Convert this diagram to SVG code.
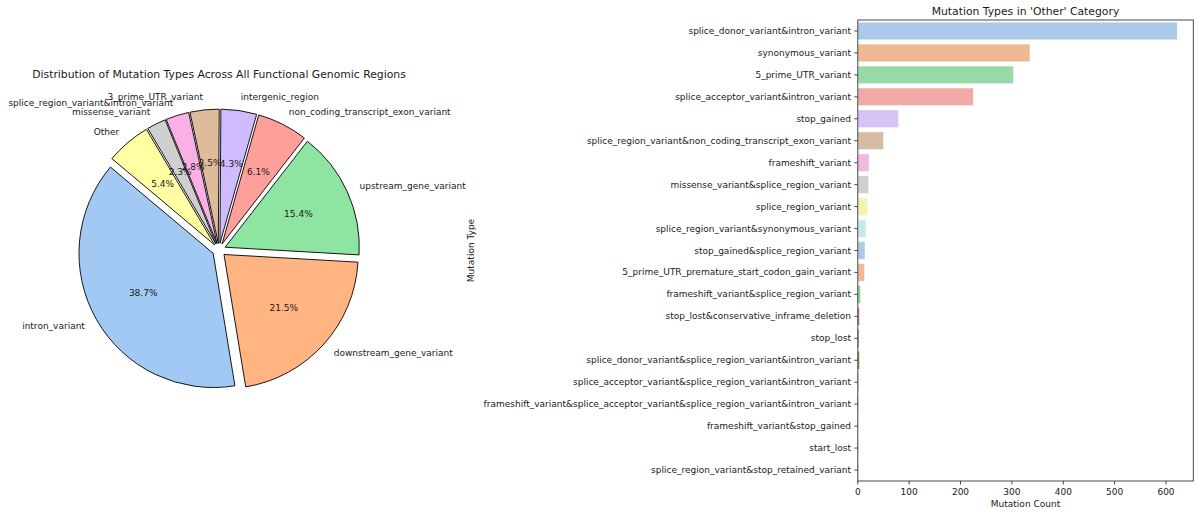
<svg xmlns="http://www.w3.org/2000/svg" width="1200" height="516" viewBox="0 0 1200 516">
<style>
text{font-family:"DejaVu Sans","Liberation Sans",sans-serif;fill:#1a1a1a;font-size:9px;dominant-baseline:central}
.title{font-size:10.8px}
.st{text-anchor:start}
.en{text-anchor:end}
.mid{text-anchor:middle}
.w{stroke:#000;stroke-width:0.9;stroke-linejoin:round}
.bar{stroke:#ffffff;stroke-opacity:0.45;stroke-width:1}
.tick{stroke:#333;stroke-width:0.9}
.spine{fill:none;stroke:#333;stroke-width:0.9}
</style>
<rect width="1200" height="516" fill="#ffffff"/>

<!-- Pie chart -->
<text class="title mid" x="219" y="74">Distribution of Mutation Types Across All Functional Genomic Regions</text>
<g id="pie">
<g id="w-intron"><path class="w" fill="#a1c9f4" d="M213.18,253.32 L110.38,167.06 A134.2,134.2 0 0 0 234.92,385.75 Z"/></g>
<g id="w-downstream"><path class="w" fill="#ffb482" d="M223.98,254.48 L245.72,386.91 A134.2,134.2 0 0 0 357.96,262.16 Z"/></g>
<g id="w-upstream"><path class="w" fill="#8de5a1" d="M225.10,247.23 L359.08,254.91 A134.2,134.2 0 0 0 307.42,141.24 Z"/></g>
<g id="w-noncoding"><path class="w" fill="#ff9f9b" d="M222.03,244.02 L304.35,138.03 A134.2,134.2 0 0 0 258.75,114.95 Z"/></g>
<g id="w-intergenic"><path class="w" fill="#d0bbff" d="M219.95,243.37 L256.67,114.30 A134.2,134.2 0 0 0 220.89,109.17 Z"/></g>
<g id="w-3prime"><path class="w" fill="#debb9b" d="M218.31,243.34 L219.25,109.14 A134.2,134.2 0 0 0 189.95,112.17 Z"/></g>
<g id="w-spliceintron"><path class="w" fill="#fab0e4" d="M217.01,243.60 L188.65,112.43 A134.2,134.2 0 0 0 166.13,119.42 Z"/></g>
<g id="w-missense"><path class="w" fill="#cfcfcf" d="M216.02,244.00 L165.14,119.82 A134.2,134.2 0 0 0 147.78,128.44 Z"/></g>
<g id="w-other"><path class="w" fill="#fffea3" d="M214.67,244.89 L146.43,129.33 A134.2,134.2 0 0 0 111.87,158.63 Z"/></g>
</g>
<g id="pie-labels">
<text class="en" x="84.9" y="326.4">intron_variant</text>
<text class="st" x="333.7" y="353.2">downstream_gene_variant</text>
<text class="st" x="359.5" y="186.2">upstream_gene_variant</text>
<text class="st" x="288.7" y="112.4">non_coding_transcript_exon_variant</text>
<text class="st" x="240.8" y="97.3">intergenic_region</text>
<text class="en" x="203.1" y="96.5">3_prime_UTR_variant</text>
<text class="en" x="173.3" y="102.6">splice_region_variant&amp;intron_variant</text>
<text class="en" x="150.3" y="111.8">missense_variant</text>
<text class="en" x="119.3" y="132.3">Other</text>
</g>
<g id="pie-pct">
<text class="mid" x="143.2" y="293.2">38.7%</text>
<text class="mid" x="283.8" y="308.3">21.5%</text>
<text class="mid" x="298.4" y="213.9">15.4%</text>
<text class="mid" x="258.4" y="172.2">6.1%</text>
<text class="mid" x="231.3" y="163.7">4.3%</text>
<text class="mid" x="210.0" y="163.3">3.5%</text>
<text class="mid" x="193.2" y="166.7">2.8%</text>
<text class="mid" x="180.2" y="171.9">2.3%</text>
<text class="mid" x="162.6" y="183.5">5.4%</text>
</g>

<!-- Bar chart -->
<text class="title mid" x="1025.5" y="11">Mutation Types in 'Other' Category</text>
<g id="bars">
<g id="b1"><rect class="bar" x="857.8" y="22.20" width="319.5" height="17.56" fill="#abc9e9"/></g>
<g id="b2"><rect class="bar" x="857.8" y="44.15" width="172.1" height="17.56" fill="#efb792"/></g>
<g id="b3"><rect class="bar" x="857.8" y="66.10" width="155.7" height="17.56" fill="#98daa7"/></g>
<g id="b4"><rect class="bar" x="857.8" y="88.05" width="115.6" height="17.56" fill="#f2aaa7"/></g>
<g id="b5"><rect class="bar" x="857.8" y="110.01" width="40.6" height="17.56" fill="#d3c3f6"/></g>
<g id="b6"><rect class="bar" x="857.8" y="131.96" width="25.7" height="17.56" fill="#d6bba3"/></g>
<g id="b7"><rect class="bar" x="857.8" y="153.91" width="11.3" height="17.56" fill="#f1b9e0"/></g>
<g id="b8"><rect class="bar" x="857.8" y="175.86" width="10.8" height="17.56" fill="#cfcfcf"/></g>
<g id="b9"><rect class="bar" x="857.8" y="197.82" width="9.8" height="17.56" fill="#f3f2ae"/></g>
<g id="b10"><rect class="bar" x="857.8" y="219.77" width="8.2" height="17.56" fill="#c0ebe9"/></g>
<g id="b11"><rect class="bar" x="857.8" y="241.72" width="7.2" height="17.56" fill="#abc9e9"/></g>
<g id="b12"><rect class="bar" x="857.8" y="263.67" width="6.7" height="17.56" fill="#efb792"/></g>
<g id="b13"><rect x="857.8" y="285.62" width="2.6" height="17.56" fill="#8fd8a0"/></g>
<g id="b14"><rect x="857.8" y="307.58" width="1.5" height="17.56" fill="#c87a74"/></g>
<g id="b15"><rect x="857.8" y="329.53" width="1.0" height="17.56" fill="#8a80c8"/></g>
<g id="b16"><rect x="857.8" y="351.48" width="1.5" height="17.56" fill="#a8855f"/></g>
<g id="b17"><rect x="857.8" y="373.43" width="0.6" height="17.56" fill="#d890c4"/></g>
<g id="b18"><rect x="857.8" y="395.39" width="0.4" height="17.56" fill="#aaaaaa"/></g>
<g id="b19"><rect x="857.8" y="417.34" width="0.4" height="17.56" fill="#d8d890"/></g>
<g id="b20"><rect x="857.8" y="439.29" width="0.4" height="17.56" fill="#9cc8c6"/></g>
<g id="b21"><rect x="857.8" y="461.24" width="0.4" height="17.56" fill="#8fb0d8"/></g>
</g>
<rect class="spine" x="857.8" y="20" width="335.5" height="461"/>
<g id="yticks">
<line class="tick" x1="854.3" x2="857.8" y1="30.98" y2="30.98"/>
<line class="tick" x1="854.3" x2="857.8" y1="52.93" y2="52.93"/>
<line class="tick" x1="854.3" x2="857.8" y1="74.88" y2="74.88"/>
<line class="tick" x1="854.3" x2="857.8" y1="96.83" y2="96.83"/>
<line class="tick" x1="854.3" x2="857.8" y1="118.79" y2="118.79"/>
<line class="tick" x1="854.3" x2="857.8" y1="140.74" y2="140.74"/>
<line class="tick" x1="854.3" x2="857.8" y1="162.69" y2="162.69"/>
<line class="tick" x1="854.3" x2="857.8" y1="184.64" y2="184.64"/>
<line class="tick" x1="854.3" x2="857.8" y1="206.60" y2="206.60"/>
<line class="tick" x1="854.3" x2="857.8" y1="228.55" y2="228.55"/>
<line class="tick" x1="854.3" x2="857.8" y1="250.50" y2="250.50"/>
<line class="tick" x1="854.3" x2="857.8" y1="272.45" y2="272.45"/>
<line class="tick" x1="854.3" x2="857.8" y1="294.40" y2="294.40"/>
<line class="tick" x1="854.3" x2="857.8" y1="316.36" y2="316.36"/>
<line class="tick" x1="854.3" x2="857.8" y1="338.31" y2="338.31"/>
<line class="tick" x1="854.3" x2="857.8" y1="360.26" y2="360.26"/>
<line class="tick" x1="854.3" x2="857.8" y1="382.21" y2="382.21"/>
<line class="tick" x1="854.3" x2="857.8" y1="404.17" y2="404.17"/>
<line class="tick" x1="854.3" x2="857.8" y1="426.12" y2="426.12"/>
<line class="tick" x1="854.3" x2="857.8" y1="448.07" y2="448.07"/>
<line class="tick" x1="854.3" x2="857.8" y1="470.02" y2="470.02"/>
</g>
<g id="ylabels">
<text class="en" x="851" y="30.98">splice_donor_variant&amp;intron_variant</text>
<text class="en" x="851" y="52.93">synonymous_variant</text>
<text class="en" x="851" y="74.88">5_prime_UTR_variant</text>
<text class="en" x="851" y="96.83">splice_acceptor_variant&amp;intron_variant</text>
<text class="en" x="851" y="118.79">stop_gained</text>
<text class="en" x="851" y="140.74">splice_region_variant&amp;non_coding_transcript_exon_variant</text>
<text class="en" x="851" y="162.69">frameshift_variant</text>
<text class="en" x="851" y="184.64">missense_variant&amp;splice_region_variant</text>
<text class="en" x="851" y="206.60">splice_region_variant</text>
<text class="en" x="851" y="228.55">splice_region_variant&amp;synonymous_variant</text>
<text class="en" x="851" y="250.50">stop_gained&amp;splice_region_variant</text>
<text class="en" x="851" y="272.45">5_prime_UTR_premature_start_codon_gain_variant</text>
<text class="en" x="851" y="294.40">frameshift_variant&amp;splice_region_variant</text>
<text class="en" x="851" y="316.36">stop_lost&amp;conservative_inframe_deletion</text>
<text class="en" x="851" y="338.31">stop_lost</text>
<text class="en" x="851" y="360.26">splice_donor_variant&amp;splice_region_variant&amp;intron_variant</text>
<text class="en" x="851" y="382.21">splice_acceptor_variant&amp;splice_region_variant&amp;intron_variant</text>
<text class="en" x="851" y="404.17">frameshift_variant&amp;splice_acceptor_variant&amp;splice_region_variant&amp;intron_variant</text>
<text class="en" x="851" y="426.12">frameshift_variant&amp;stop_gained</text>
<text class="en" x="851" y="448.07">start_lost</text>
<text class="en" x="851" y="470.02">splice_region_variant&amp;stop_retained_variant</text>
</g>
<g id="xticks">
<line class="tick" x1="857.8" x2="857.8" y1="481" y2="484.5"/>
<line class="tick" x1="909.2" x2="909.2" y1="481" y2="484.5"/>
<line class="tick" x1="960.5" x2="960.5" y1="481" y2="484.5"/>
<line class="tick" x1="1011.9" x2="1011.9" y1="481" y2="484.5"/>
<line class="tick" x1="1063.3" x2="1063.3" y1="481" y2="484.5"/>
<line class="tick" x1="1114.6" x2="1114.6" y1="481" y2="484.5"/>
<line class="tick" x1="1166.0" x2="1166.0" y1="481" y2="484.5"/>
<text class="mid" x="857.8" y="491.7">0</text>
<text class="mid" x="909.2" y="491.7">100</text>
<text class="mid" x="960.5" y="491.7">200</text>
<text class="mid" x="1011.9" y="491.7">300</text>
<text class="mid" x="1063.3" y="491.7">400</text>
<text class="mid" x="1114.6" y="491.7">500</text>
<text class="mid" x="1166.0" y="491.7">600</text>
</g>
<text class="mid" x="1025.5" y="504">Mutation Count</text>
<text class="mid" transform="translate(471,250.5) rotate(-90)" x="0" y="0">Mutation Type</text>
</svg>
